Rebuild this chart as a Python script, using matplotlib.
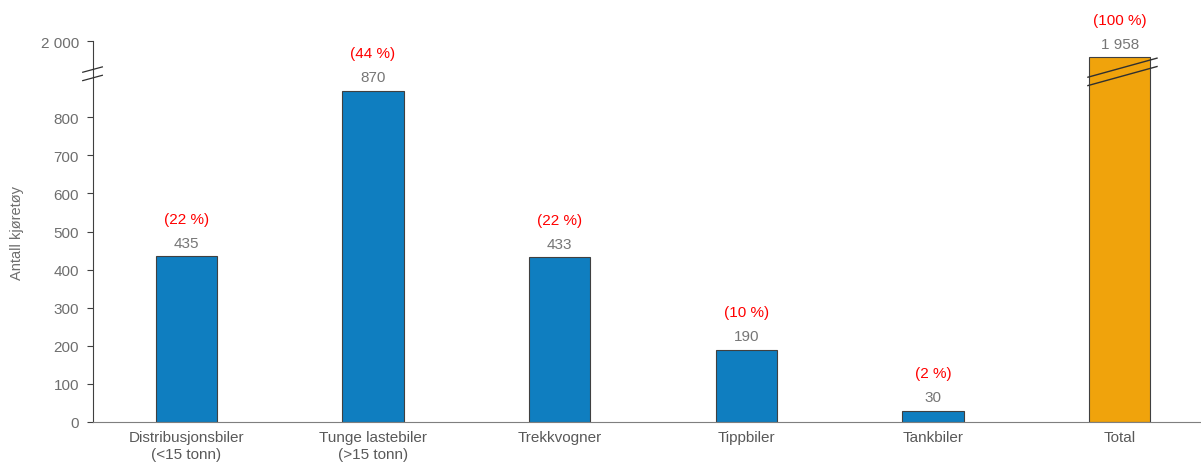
import matplotlib.pyplot as plt
import numpy as np

plt.rcParams['font.family'] = ['Liberation Sans', 'DejaVu Sans']

# data
kategorier = ['Distribusjonsbiler\n(<15 tonn)', 'Tunge lastebiler\n(>15 tonn)',
              'Trekkvogner', 'Tippbiler', 'Tankbiler', 'Total']
antall = [435, 870, 433, 190, 30, 1958]
andel = [22, 44, 22, 10, 2, 100]
farger = ['#0F7EC0'] * 5 + ['#F0A30C']

yticks = [0, 100, 200, 300, 400, 500, 600, 700, 800, 2000]


def pos(v):
    # brutt y-akse: 1900-2000 vises som 900-1000
    return v - 1000 if v > 1000 else v


def fmt(v):
    return f"{v:,}".replace(',', ' ')


fig = plt.figure(figsize=(12.01, 4.64), dpi=100)
ax = fig.add_axes([93 / 1201, 41 / 464, 1120 / 1201, 381 / 464])

x = np.arange(len(kategorier))
h = [pos(v) for v in antall]
ax.bar(x, h, width=0.33, color=farger, edgecolor='#404040', linewidth=0.8, zorder=2)

for xi, hi, v, p in zip(x, h, antall, andel):
    ax.annotate(fmt(v), (xi, hi), xytext=(0, 9.5), textcoords='offset points',
                ha='center', va='center', color='#767676', fontsize=11)
    ax.annotate(f"({p} %)", (xi, hi), xytext=(0, 27), textcoords='offset points',
                ha='center', va='center', color='#FF0000', fontsize=11)

ax.set_xlim(-0.5, 5.5)
ax.set_ylim(0, 1000)
ax.set_yticks([pos(t) for t in yticks])
ax.set_yticklabels([fmt(t) for t in yticks])
ax.set_xticks(x)
ax.set_xticklabels(kategorier)
ax.tick_params(axis='x', length=0, pad=6, labelsize=11, labelcolor='#595959')
ax.tick_params(axis='y', length=4, width=0.8, color='#404040', labelsize=11,
               labelcolor='#6E6E6E', pad=6)
ax.set_ylabel('Antall kjøretøy', fontsize=10.5, color='#6E6E6E', labelpad=12)

for s in ['top', 'right']:
    ax.spines[s].set_visible(False)
ax.spines['left'].set_color('#404040')
ax.spines['bottom'].set_color('#7F7F7F')
ax.spines['left'].set_linewidth(0.8)

# bruddmerker på aksen
for dy in [0, 22]:
    ax.plot([-0.555, -0.45], [918 - dy, 932 - dy], color='#303030', lw=0.9,
            clip_on=False, zorder=5)
# bruddmerker på total-søylen
for dy in [0, 22]:
    ax.plot([4.83, 5.2], [905 - dy, 955 - dy], color='#303030', lw=1.0,
            clip_on=False, zorder=5)

fig.savefig('out.png', dpi=100)
